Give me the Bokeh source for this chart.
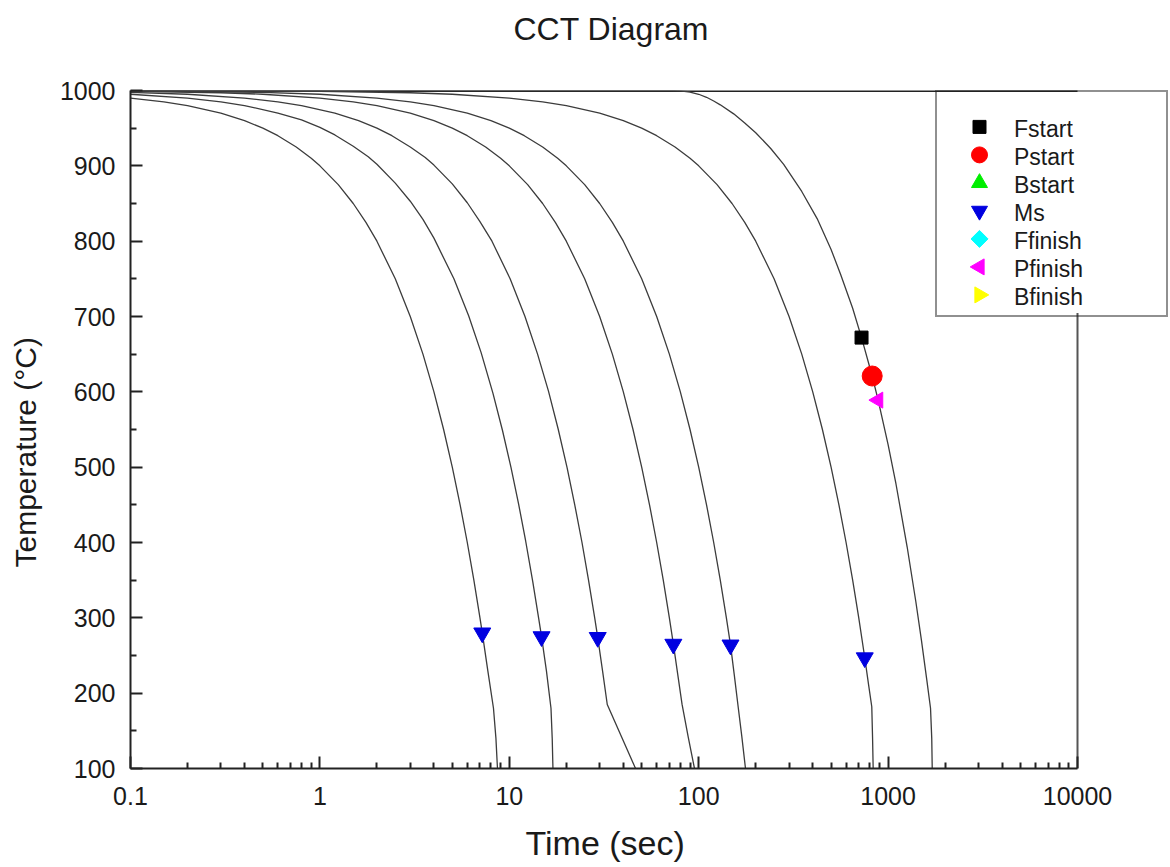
from bokeh.plotting import figure
from bokeh.models import FixedTicker, CustomJSTickFormatter, Legend, LegendItem, Range1d, Title
from bokeh.embed import file_html
from bokeh.resources import INLINE
import math

# ---------------- data ----------------
c1_t = [0.1, 0.15, 0.2, 0.3, 0.4, 0.5, 0.6, 0.75, 0.9, 1.0, 1.25, 1.5, 1.75, 2.0, 2.5, 3.0, 3.5, 4.0, 4.5, 5.0, 5.5, 6.0, 6.5, 7.0, 7.2, 7.7, 8.25, 8.5, 8.66]
c1_T = [990, 985, 980, 970, 960, 950, 940, 925, 910, 900, 875, 850, 825, 800, 750, 700, 650, 600, 550, 500, 450, 400, 350, 300, 280, 230, 180, 140, 100]

c2_t = [0.1, 0.2, 0.3, 0.4, 0.6, 0.8, 1.0, 1.2, 1.5, 1.8, 2.0, 2.5, 3.0, 3.5, 4.0, 5.1, 6.1, 7.1, 8.2, 9.2, 10.2, 11.2, 12.2, 13.3, 14.3, 14.8, 15.7, 16.6, 16.85, 17.0]
c2_T = [995, 990, 985, 980, 970, 961, 951, 941, 926, 912, 902, 877, 853, 829, 804, 750, 701, 652, 598, 549, 500, 451, 402, 348, 299, 275, 230, 180, 140, 100]

c3_t = [0.1, 0.2, 0.4, 0.6, 0.8, 1.2, 1.6, 2.0, 2.4, 3.0, 3.6, 4.0, 5.0, 6.0, 7.0, 8.1, 10.1, 12.1, 14.1, 16.1, 18.1, 20.2, 22.2, 24.2, 26.2, 28.2, 29.3, 31.1, 32.9, 46.4]
c3_T = [997.5, 995, 990, 985, 980, 970, 960, 950, 940, 925, 911, 901, 876, 851, 826, 800, 750, 700, 650, 601, 551, 499, 449, 400, 350, 301, 274, 229, 185, 100]

c4_t = [0.1, 0.3, 0.5, 1, 1.5, 2, 3, 4, 5, 6, 7.5, 9, 10, 12.5, 15, 17.5, 20, 25, 30, 35, 40, 45, 50, 55, 60, 65, 70, 73.5, 77.5, 81.7, 88, 95]
c4_T = [999, 997, 995, 990, 985, 980, 970, 960, 950, 940, 925, 910, 900, 875, 850, 825, 800, 750, 700, 650, 600, 550, 500, 450, 400, 350, 300, 265, 225, 185, 142, 100]

c5_t = [0.1, 0.5, 1, 2, 3, 4, 6, 8, 10, 12, 15, 18, 20, 25, 30, 35, 40, 50, 60, 70, 80, 90, 100, 110, 120, 130, 140, 147.2, 154, 161, 169, 176.6]
c5_T = [999.5, 997.5, 995, 990, 985, 980, 970, 960, 950, 940, 925, 910, 900, 875, 850, 825, 800, 750, 700, 650, 600, 550, 500, 450, 400, 350, 300, 264, 225, 185, 142, 100]

c6_t = [0.1, 1, 3, 5, 10, 15, 20, 30, 40, 50, 60, 75, 90, 100, 125, 150, 175, 200, 250, 300, 350, 400, 450, 500, 550, 600, 650, 700, 753, 790, 820, 828, 834]
c6_T = [999.9, 999, 997, 995, 990, 985, 980, 970, 960, 950, 940, 925, 910, 900, 875, 850, 825, 800, 750, 700, 650, 600, 550, 500, 450, 400, 350, 300, 247, 210, 182, 140, 100]

c7_t = [0.1, 70, 80, 90, 100, 110, 120, 130, 153, 175, 200, 240, 281, 350, 422, 500, 561, 650, 724, 824, 886, 1000, 1100, 1261, 1400, 1500, 1600, 1675, 1700, 1710]
c7_T = [1000, 1000, 999.5, 998, 995, 991, 986, 981, 969, 957, 944, 923, 902, 866, 830, 789, 756, 711, 672, 621, 589, 530, 478, 394, 322, 270, 218, 180, 140, 100]

curves_t = [c1_t, c2_t, c3_t, c4_t, c5_t, c6_t, c7_t]
curves_T = [c1_T, c2_T, c3_T, c4_T, c5_T, c6_T, c7_T]

series_names = ["Fstart", "Pstart", "Bstart", "Ms", "Ffinish", "Pfinish", "Bfinish"]
fstart_t, fstart_T = [724], [672]
pstart_t, pstart_T = [824], [621]
bstart_t, bstart_T = [], []
ms_t = [7.2, 14.8, 29.3, 73.5, 147.2, 753]
ms_T = [280, 275, 274, 265, 264, 247]
ffinish_t, ffinish_T = [], []
pfinish_t, pfinish_T = [886], [589]
bfinish_t, bfinish_T = [], []

x_ticks = [0.1, 1, 10, 100, 1000, 10000]
y_ticks = [100, 200, 300, 400, 500, 600, 700, 800, 900, 1000]

# ---------------- layout constants ----------------
FONT = "Liberation Sans"
TXT = "#1a1a1a"
W, H = 1168, 867
FL, FT, FB = 130, 90, 768          # frame left / top / bottom (px)
PX_DEC = 189.4                     # px per decade on the time axis
X_AXIS_END_PX = 1077               # where 10000 sits
x_end = 10 ** (math.log10(x_ticks[-1]) + (W - X_AXIS_END_PX) / PX_DEC)

p = figure(width=W, height=H, x_axis_type="log",
           x_range=Range1d(x_ticks[0], x_end), y_range=Range1d(y_ticks[0], y_ticks[-1]),
           output_backend="svg", toolbar_location=None,
           min_border_left=FL, min_border_right=0,
           min_border_top=FT, min_border_bottom=H - FB)
p.background_fill_color = "white"
p.border_fill_color = "white"
p.grid.visible = False
p.outline_line_color = None

# title: an empty second line lifts the visible line higher inside its panel
p.title.text = "CCT Diagram\n"
p.title.text_font = FONT
p.title.text_font_size = "32px"
p.title.text_font_style = "normal"
p.title.text_color = TXT
p.title.text_line_height = 1.2
p.title.align = "left"
p.title.offset = 383
p.title.standoff = 0

minor_x = [m * 10.0 ** k for k in range(-1, 4) for m in range(2, 10)]
p.xaxis.ticker = FixedTicker(ticks=x_ticks, minor_ticks=minor_x)
p.xaxis.formatter = CustomJSTickFormatter(code="return String(tick)")
p.xaxis.bounds = (x_ticks[0], x_ticks[-1])
minor_y = [v + 50 for v in y_ticks[:-1]]
p.yaxis.ticker = FixedTicker(ticks=y_ticks, minor_ticks=minor_y)

for ax in (p.xaxis[0], p.yaxis[0]):
    ax.axis_line_width = 2
    ax.axis_line_color = "#222222"
    ax.major_tick_in = 12
    ax.major_tick_out = 0
    ax.minor_tick_in = 6
    ax.minor_tick_out = 0
    ax.major_tick_line_width = 2
    ax.minor_tick_line_width = 2
    ax.major_tick_line_color = "#222222"
    ax.minor_tick_line_color = "#222222"
    ax.major_label_text_font = FONT
    ax.major_label_text_font_size = "25px"
    ax.major_label_text_color = TXT
p.xaxis.major_label_standoff = 18
p.yaxis.major_label_standoff = 15

# axis titles as positioned titles (an empty extra line shifts them outward)
xt = Title(text="\nTime (sec)", align="left", offset=395, standoff=0, text_line_height=0.4,
           text_font=FONT, text_font_size="34px", text_font_style="normal", text_color=TXT)
p.add_layout(xt, "below")
yt = Title(text="Temperature (°C)\n", align="left", offset=201, standoff=0, text_line_height=0.44,
           text_font=FONT, text_font_size="30px", text_font_style="normal", text_color=TXT)
p.add_layout(yt, "left")

# legend geometry
LG_PAD, LG_GW, LG_PITCH, LG_STANDOFF, LG_LW = 4, 72, 28, 1, 148
LG_TITLE_H, LG_TITLE_GAP = 13.4, 5
lg_width = 2 * LG_PAD + LG_GW + LG_STANDOFF + LG_LW
lg_bottom = FT + 2 * LG_PAD + LG_TITLE_H + LG_TITLE_GAP + 7 * LG_PITCH


def sx_to_t(sx):
    return 10 ** (math.log10(x_ticks[0]) + (sx - FL) / PX_DEC)


def sy_to_T(sy):
    return y_ticks[-1] - (sy - FT) * (y_ticks[-1] - y_ticks[0]) / (FB - FT)


# frame top / right borders (only over the 0.1 .. 10000 span; right one stops under the legend)
p.line([x_ticks[0], x_ticks[-1]], [y_ticks[-1], y_ticks[-1]], line_color="#222222", line_width=3)
p.line([x_ticks[-1], x_ticks[-1]], [y_ticks[0], sy_to_T(lg_bottom)], line_color="#555555", line_width=2)

for ts, Ts in zip(curves_t, curves_T):
    p.line(ts, Ts, line_color="#3c3c3c", line_width=1.3)

NAN = float("nan")


def pts(v):
    return v if v else [NAN]


styles = {
    "Fstart": dict(marker="square", color="black", size=13, angle=0.0, lsize=13),
    "Pstart": dict(marker="circle", color="red", size=20, angle=0.0, lsize=16),
    "Bstart": dict(marker="triangle", color="#00ee00", size=16, angle=0.0, lsize=16),
    "Ms": dict(marker="inverted_triangle", color="#0000e0", size=17, angle=0.0, lsize=16),
    "Ffinish": dict(marker="square", color="cyan", size=12, angle=math.pi / 4, lsize=12),
    "Pfinish": dict(marker="triangle", color="magenta", size=16, angle=math.pi / 2, lsize=16),
    "Bfinish": dict(marker="triangle", color="yellow", size=16, angle=-math.pi / 2, lsize=16),
}
series = {
    "Fstart": (fstart_t, fstart_T), "Pstart": (pstart_t, pstart_T), "Bstart": (bstart_t, bstart_T),
    "Ms": (ms_t, ms_T), "Ffinish": (ffinish_t, ffinish_T), "Pfinish": (pfinish_t, pfinish_T),
    "Bfinish": (bfinish_t, bfinish_T),
}
for name in series_names:
    st = styles[name]
    xs, ys = series[name]
    p.scatter(pts(xs), pts(ys), marker=st["marker"], size=st["size"], angle=st["angle"],
              fill_color=st["color"], line_color=st["color"])

# legend swatches (drawn as glyphs under a transparent legend box)
sw_x = W - lg_width + LG_PAD + LG_GW / 2
first_y = FT + LG_PAD + LG_TITLE_H + LG_TITLE_GAP + LG_PITCH / 2
for i, name in enumerate(series_names):
    st = styles[name]
    p.scatter([sx_to_t(sw_x)], [sy_to_T(first_y + i * LG_PITCH)], marker=st["marker"], size=st["lsize"],
              angle=st["angle"], fill_color=st["color"], line_color=st["color"])

dummy = p.scatter([NAN], [NAN], alpha=0)
items = [LegendItem(label=n, renderers=[dummy]) for n in series_names]
legend = Legend(items=items, location="top_right", margin=0, padding=LG_PAD, spacing=0,
                glyph_width=LG_GW, glyph_height=LG_PITCH, label_height=LG_PITCH, label_width=LG_LW,
                label_standoff=LG_STANDOFF, label_text_font=FONT, label_text_font_size="23px",
                label_text_color=TXT, border_line_color="#222222", border_line_width=2,
                background_fill_alpha=0.0,
                title=" ", title_text_font_size="12px", title_standoff=LG_TITLE_GAP)
p.add_layout(legend)

open("out.html", "w").write(file_html(p, INLINE))
